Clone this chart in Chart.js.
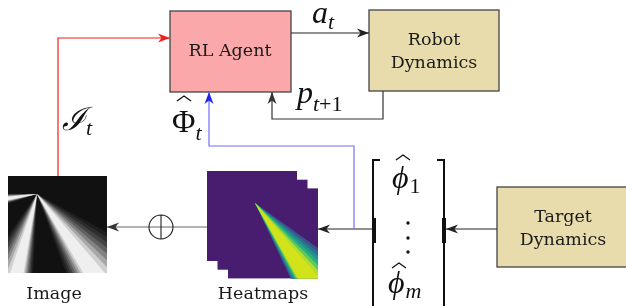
<!DOCTYPE html>
<html>
<head>
<meta charset="utf-8">
<script src="https://cdn.jsdelivr.net/npm/chart.js@4.4.0/dist/chart.umd.min.js"></script>
<style>
  html, body { margin: 0; padding: 0; background: #fff; }
  canvas { display: block; }
</style>
</head>
<body>
<canvas id="diagrama" width="626" height="306"></canvas>
<script>
// textos del diagrama
var boxLabels = [["RL Agent"], ["Robot", "Dynamics"], ["Target", "Dynamics"]];
var captionLabels = ["Image", "Heatmaps"];
var signalSymbols = ["a", "p", "ℐ", "Φ"];
var signalSubscripts = ["t", "t+1", "t", "t"];
var vectorSymbols = ["ϕ", "ϕ"];
var vectorSubscripts = ["1", "m"];
var heatmapLayers = 3;

// posiciones (en unidades de los ejes, 0..626 x 0..306)
var L = {
  agent: { x0: 170, y0: 11, x1: 291, y1: 92, fill: "#fba8aa" },
  robot: { x0: 369, y0: 10, x1: 499, y1: 91, fill: "#e8dcad" },
  target: { x0: 497, y0: 187, x1: 631, y1: 267, fill: "#e8dcad" },
  image: { x0: 8, y0: 176, x1: 107, y1: 273 },
  heat: { x0: 207, y0: 171, size: 90, dx: 10.5, dy: 8.7 },
  bracket: { x0: 373, x1: 444, y0: 160, y1: 320 },
};
var frontX0 = L.heat.x0 + (heatmapLayers - 1) * L.heat.dx;
var frontY0 = L.heat.y0 + (heatmapLayers - 1) * L.heat.dy;

// conexiones
var connectors = [
  { color: "#222", pts: [[L.agent.x1, 33], [L.robot.x0, 33]] },
  { color: "#333", pts: [[383, L.robot.y1], [383, 119], [272, 119], [272, L.agent.y1]] },
  { color: "#f21d1d", pts: [[58, L.image.y0], [58, 38], [L.agent.x0, 38]] },
  { color: "#2222ee", line: "#6e6eff", pts: [[354, 229], [354, 146], [209, 146], [209, L.agent.y1]] },
  { color: "#222", pts: [[L.target.x0, 229], [L.bracket.x1 + 2, 229]] },
  { color: "#222", pts: [[L.bracket.x0 - 1, 229], [frontX0 + L.heat.size, 229]] },
  { color: "#333", line: "#666", pts: [[L.heat.x0, 227], [L.image.x1, 227]] },
];

var datasets = connectors.map(function (c) {
  return {
    data: c.pts.map(function (p) { return { x: p[0], y: p[1] }; }),
    showLine: true,
    borderColor: c.line || c.color,
    borderWidth: 1.2,
    pointRadius: 0,
    tension: 0,
    fill: false,
  };
});

function px(chart, x, y) {
  return [chart.scales.x.getPixelForValue(x), chart.scales.y.getPixelForValue(y)];
}

function arrowTip(ctx, x, y, ang, color) {
  ctx.save();
  ctx.translate(x, y);
  ctx.rotate(ang);
  ctx.fillStyle = color;
  ctx.beginPath();
  ctx.moveTo(0, 0);
  ctx.lineTo(-12, -4.5);
  ctx.lineTo(-8.5, 0);
  ctx.lineTo(-12, 4.5);
  ctx.closePath();
  ctx.fill();
  ctx.restore();
}

// haz en bandas: de los angulos exteriores a los interiores
function wedge(ctx, rect, ox, oy, outer, inner, colors) {
  ctx.save();
  ctx.beginPath();
  ctx.rect(rect[0], rect[1], rect[2], rect[3]);
  ctx.clip();
  var n = colors.length;
  colors.forEach(function (col, i) {
    var f = n > 1 ? i / (n - 1) : 0;
    var a0 = outer[0] + (inner[0] - outer[0]) * f;
    var a1 = outer[1] + (inner[1] - outer[1]) * f;
    var len = 300;
    ctx.fillStyle = col;
    ctx.beginPath();
    ctx.moveTo(ox, oy);
    ctx.lineTo(ox + len * Math.cos(a0), oy + len * Math.sin(a0));
    ctx.lineTo(ox + len * Math.cos(a1), oy + len * Math.sin(a1));
    ctx.closePath();
    ctx.fill();
  });
  ctx.restore();
}

function hat(ctx, x, y) {
  ctx.save();
  ctx.strokeStyle = "#111";
  ctx.lineWidth = 1.3;
  ctx.beginPath();
  ctx.moveTo(x - 7, y + 5);
  ctx.lineTo(x, y);
  ctx.lineTo(x + 7, y + 5);
  ctx.stroke();
  ctx.restore();
}

// simbolo con subindice (parte italica y parte recta)
function mathLabel(ctx, x, y, sym, sub, opts) {
  ctx.save();
  ctx.fillStyle = "#111";
  ctx.textAlign = "left";
  ctx.textBaseline = "alphabetic";
  ctx.font = (opts.upright ? "" : "italic ") + "32px 'Liberation Serif', 'DejaVu Serif', serif";
  ctx.fillText(sym, x, y);
  var sx = x + ctx.measureText(sym).width + (opts.kern || 0);
  var sy = y + (opts.drop || 6);
  for (var i = 0; i < sub.length; i++) {
    var ch = sub[i];
    var italic = /[a-z]/.test(ch);
    ctx.font = (italic ? "italic " : "") + "22px 'Liberation Serif', 'DejaVu Serif', serif";
    ctx.fillText(ch, sx, sy);
    sx += ctx.measureText(ch).width;
  }
  ctx.restore();
}

function drawBox(ctx, chart, b, lines, cx, baselines) {
  var a = px(chart, b.x0, b.y0), c = px(chart, b.x1, b.y1);
  ctx.fillStyle = b.fill;
  ctx.fillRect(a[0], a[1], c[0] - a[0], c[1] - a[1]);
  ctx.strokeStyle = "#444";
  ctx.lineWidth = 1.3;
  ctx.strokeRect(a[0], a[1], c[0] - a[0], c[1] - a[1]);
  ctx.fillStyle = "#1a1a1a";
  ctx.font = "17.5px 'DejaVu Serif', serif";
  ctx.textAlign = "center";
  ctx.textBaseline = "alphabetic";
  lines.forEach(function (t, i) {
    ctx.fillText(t, cx, baselines[i]);
  });
}

var diagramPlugin = {
  id: "diagrama",
  beforeDatasetsDraw: function (chart) {
    var ctx = chart.ctx;
    ctx.save();
    drawBox(ctx, chart, L.agent, boxLabels[0], 230, [56]);
    drawBox(ctx, chart, L.robot, boxLabels[1], 434, [45, 68]);
    drawBox(ctx, chart, L.target, boxLabels[2], 563, [222, 245]);

    // imagen con haces de luz
    var im = L.image;
    ctx.fillStyle = "#111";
    ctx.fillRect(im.x0, im.y0, im.x1 - im.x0, im.y1 - im.y0);
    var rect = [im.x0, im.y0, im.x1 - im.x0, im.y1 - im.y0];
    var grays = ["#1e1e1e", "#2e2e2e", "#444", "#606060", "#828282", "#a8a8a8", "#d0d0d0", "#efefef"];
    wedge(ctx, rect, 37, 194, [2.82, 3.16], [2.94, 3.05], grays);
    wedge(ctx, rect, 37, 194, [1.62, 2.18], [1.74, 1.90], grays);
    wedge(ctx, rect, 37, 194, [0.50, 1.22], [0.86, 1.04], grays);

    // mapas de calor apilados
    for (var k = 0; k < heatmapLayers; k++) {
      var hx = L.heat.x0 + k * L.heat.dx, hy = L.heat.y0 + k * L.heat.dy;
      ctx.fillStyle = "#481c6e";
      ctx.fillRect(hx, hy, L.heat.size, L.heat.size);
    }
    var viridis = ["#3b528b", "#2c728e", "#21918c", "#28ae80", "#5ec962", "#b2dd2d", "#d2e21b"];
    wedge(ctx, [frontX0, frontY0, L.heat.size, L.heat.size], 255, 203, [0.62, 1.13], [0.86, 1.05], viridis);
    ctx.restore();
  },
  afterDatasetsDraw: function (chart) {
    var ctx = chart.ctx;
    ctx.save();
    connectors.forEach(function (c) {
      var n = c.pts.length;
      var p1 = px(chart, c.pts[n - 2][0], c.pts[n - 2][1]);
      var p2 = px(chart, c.pts[n - 1][0], c.pts[n - 1][1]);
      arrowTip(ctx, p2[0], p2[1], Math.atan2(p2[1] - p1[1], p2[0] - p1[0]), c.color);
    });

    // suma (oplus)
    ctx.strokeStyle = "#222";
    ctx.lineWidth = 1.1;
    ctx.beginPath();
    ctx.arc(161, 227, 12, 0, Math.PI * 2);
    ctx.moveTo(161, 215);
    ctx.lineTo(161, 239);
    ctx.stroke();

    // vector entre corchetes
    var br = L.bracket;
    ctx.strokeStyle = "#111";
    ctx.lineWidth = 2;
    ctx.beginPath();
    ctx.moveTo(br.x0 + 7, br.y0);
    ctx.lineTo(br.x0, br.y0);
    ctx.lineTo(br.x0, br.y1);
    ctx.moveTo(br.x1 - 7, br.y0);
    ctx.lineTo(br.x1, br.y0);
    ctx.lineTo(br.x1, br.y1);
    ctx.stroke();
    ctx.fillStyle = "#111";
    ctx.fillRect(br.x0 - 1, 218, 4, 25);
    ctx.fillRect(br.x1 - 2, 218, 4, 25);
    [223, 238, 252].forEach(function (y) {
      ctx.beginPath();
      ctx.arc(408, y, 1.7, 0, Math.PI * 2);
      ctx.fill();
    });

    mathLabel(ctx, 392, 188, vectorSymbols[0], vectorSubscripts[0], { drop: 5, kern: 1 });
    hat(ctx, 403, 155);
    mathLabel(ctx, 388, 293, vectorSymbols[1], vectorSubscripts[1], { drop: 5, kern: 1 });
    hat(ctx, 399, 263);

    // senales
    mathLabel(ctx, 312, 23, signalSymbols[0], signalSubscripts[0], { drop: 6 });
    mathLabel(ctx, 297, 103, signalSymbols[1], signalSubscripts[1], { drop: 8 });
    mathLabel(ctx, 62, 130, signalSymbols[2], signalSubscripts[2], { drop: 5 });
    mathLabel(ctx, 172, 132, signalSymbols[3], signalSubscripts[3], { drop: 8, upright: true });
    hat(ctx, 184, 96);

    // leyendas de abajo
    ctx.fillStyle = "#1a1a1a";
    ctx.font = "17.5px 'DejaVu Serif', serif";
    ctx.textAlign = "center";
    ctx.fillText(captionLabels[0], 54, 299);
    ctx.fillText(captionLabels[1], 263, 299);
    ctx.restore();
  },
};

new Chart(document.getElementById("diagrama").getContext("2d"), {
  type: "scatter",
  data: { datasets: datasets },
  options: {
    responsive: false,
    animation: false,
    devicePixelRatio: 1,
    layout: { padding: 0 },
    plugins: { legend: { display: false }, tooltip: { enabled: false } },
    scales: {
      x: { type: "linear", min: 0, max: 626, display: false },
      y: { type: "linear", min: 0, max: 306, reverse: true, display: false },
    },
    elements: { line: { borderJoinStyle: "miter", borderCapStyle: "butt" } },
  },
  plugins: [diagramPlugin],
});
</script>
</body>
</html>
